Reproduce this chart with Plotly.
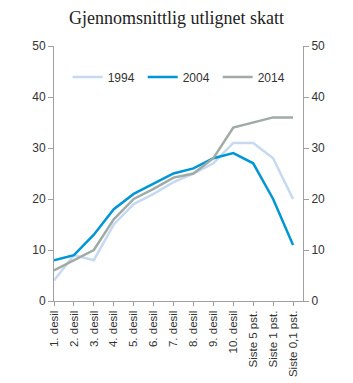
import plotly.graph_objects as go

categories = ["1. desil", "2. desil", "3. desil", "4. desil", "5. desil", "6. desil",
              "7. desil", "8. desil", "9. desil", "10. desil", "Siste 5 pst.",
              "Siste 1 pst.", "Siste 0,1 pst."]
s1994 = [4, 9, 8, 15, 19, 21, 23.3, 25, 27, 31, 31, 28, 20]
s2004 = [8, 9, 13, 18, 21, 23, 25, 26, 28, 29, 27, 20, 11]
s2014 = [6, 8, 10, 16, 20, 22, 24.2, 25, 28, 34, 35, 36, 36]
y_ticks = [0, 10, 20, 30, 40, 50]

x = list(range(len(categories)))
fig = go.Figure()
fig.add_trace(go.Scatter(x=x, y=s1994, name="1994", mode="lines",
                         line=dict(color="#c6d9f0", width=2.5)))
fig.add_trace(go.Scatter(x=x, y=s2004, name="2004", mode="lines",
                         line=dict(color="#0096d6", width=2.5)))
fig.add_trace(go.Scatter(x=x, y=s2014, name="2014", mode="lines",
                         line=dict(color="#a0aaa6", width=2.5)))
fig.add_trace(go.Scatter(x=x, y=s2014, yaxis="y2", mode="lines", showlegend=False,
                         hoverinfo="skip", line=dict(color="rgba(0,0,0,0)", width=0)))

axis_font = dict(family="Liberation Sans, Arial, sans-serif", size=12, color="#333333")
xfont = dict(family="Liberation Sans, Arial, sans-serif", size=11.5, color="#333333")
fig.update_layout(
    width=353, height=383,
    margin=dict(l=54, r=50, t=46, b=82),
    paper_bgcolor="white", plot_bgcolor="white",
    title=dict(text="Gjennomsnittlig utlignet skatt", x=0.5, xanchor="center",
               y=0.955, yanchor="middle",
               font=dict(family="Liberation Serif, Times New Roman, serif", size=18, color="#222222")),
    showlegend=True,
    legend=dict(orientation="h", x=0.055, y=0.878, xanchor="left", yanchor="middle",
                font=axis_font, bgcolor="rgba(0,0,0,0)", itemwidth=30,
                entrywidth=30, entrywidthmode="pixels",
                traceorder="normal"),
    xaxis=dict(range=[0, 12.5], tickmode="array", tickvals=x, ticktext=categories,
               tickangle=-90, ticks="outside", ticklen=4, tickcolor="#a0a0a0",
               showline=True, linecolor="#a0a0a0", linewidth=1, showgrid=False,
               zeroline=False, tickfont=xfont, fixedrange=True, automargin=False),
    yaxis=dict(range=[0, 50], tickvals=y_ticks, ticks="outside", ticklen=5,
               tickcolor="#a0a0a0", showline=True, linecolor="#a0a0a0", linewidth=1,
               showgrid=False, zeroline=False, tickfont=axis_font, automargin=False),
    yaxis2=dict(range=[0, 50], tickvals=y_ticks, ticks="outside", ticklen=5,
                tickcolor="#a0a0a0", showline=True, linecolor="#a0a0a0", linewidth=1,
                showgrid=False, zeroline=False, tickfont=axis_font, automargin=False,
                overlaying="y", side="right"),
)
fig.write_html("out.html")
